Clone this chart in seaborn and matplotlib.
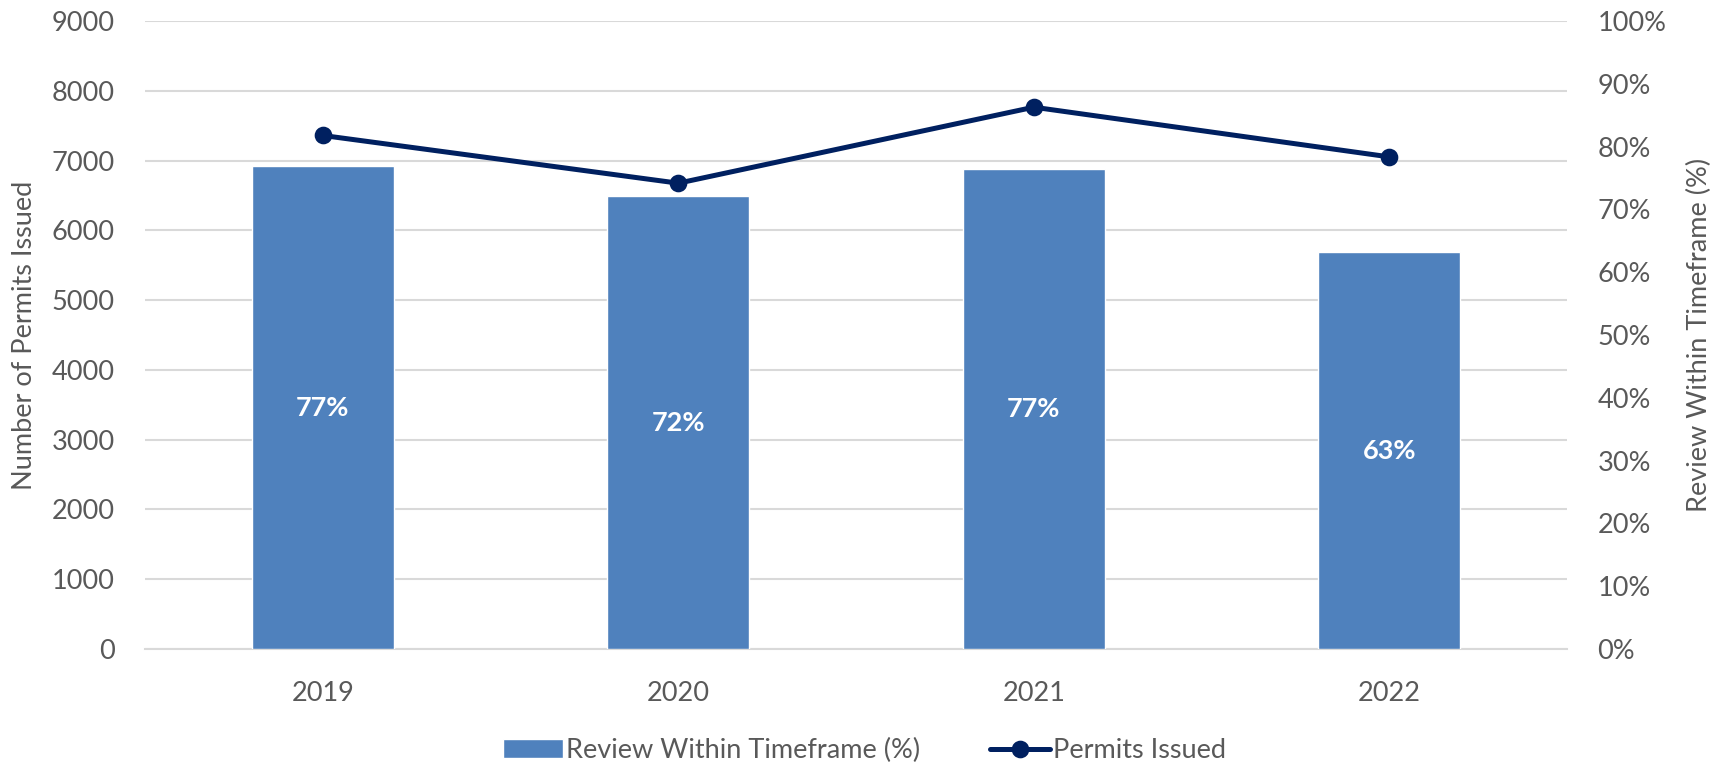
import matplotlib
matplotlib.use('Agg')
import matplotlib.pyplot as plt
import seaborn as sns
import numpy as np

# data
years = ['2019', '2020', '2021', '2022']
review_pct = [76.9, 72.1, 76.5, 63.2]      # bars, right axis
review_labels = ['77%', '72%', '77%', '63%']
permits = [7360, 6676, 7765, 7053]          # line, left axis

bar_color = '#4F81BD'
line_color = '#002060'
text_color = '#595959'
grid_color = '#D9D9D9'

sns.set_theme(style='white')
plt.rcParams['font.family'] = ['Lato', 'DejaVu Sans']

fig = plt.figure(figsize=(17.29, 7.7), dpi=100)
ax = fig.add_axes([0.0839, 0.1571, 0.8224, 0.8156])
ax_bar = ax.twinx()
ax_line = ax.twinx()

# left axis: permits scale + grid
ax.set_ylim(0, 9000)
ax.set_yticks(np.arange(0, 9001, 1000))
ax.grid(axis='y', color=grid_color, linewidth=1.5)
ax.set_ylabel('Number of Permits Issued', fontsize=19.5, color=text_color)
ax.yaxis.set_label_coords(-0.076, 0.5)

# bars on the percent axis
sns.barplot(x=years, y=review_pct, ax=ax_bar, color=bar_color, width=0.4,
            saturation=1)
ax_bar.bar_label(ax_bar.containers[0], labels=review_labels, label_type='center',
                 color='white', fontweight='bold', fontsize=19.5)
ax_bar.set_ylim(0, 100)
ax_bar.set_yticks(np.arange(0, 101, 10))
ax_bar.set_yticklabels([f'{v}%' for v in range(0, 101, 10)])
ax_bar.set_ylabel('Review Within Timeframe (%)', fontsize=19.5, color=text_color)
ax_bar.yaxis.set_label_position('right')
ax_bar.yaxis.set_label_coords(1.084, 0.5)

# line on the permits scale
sns.pointplot(x=years, y=permits, ax=ax_line, color=line_color,
              linewidth=3.6, markersize=10)
ax_line.set_ylim(0, 9000)
ax_line.set_yticks([])

for a in (ax, ax_bar, ax_line):
    a.set_xlim(-0.5, 3.5)
    for s in a.spines.values():
        s.set_visible(False)
    a.tick_params(length=0, labelsize=19.5, colors=text_color)
ax.spines['bottom'].set_visible(True)
ax.spines['bottom'].set_color(grid_color)
ax.spines['bottom'].set_linewidth(1.5)
ax.tick_params(axis='y', pad=22)
ax.tick_params(axis='x', pad=23)
ax_bar.tick_params(axis='y', pad=22)
ax_bar.set_xlabel('')
ax_line.set_xlabel('')

handles = [ax_bar.patches[0], ax_line.lines[0]]
fig.legend(handles, ['Review Within Timeframe (%)', 'Permits Issued'],
           loc='center', bbox_to_anchor=(0.5, 0.025), ncol=2, frameon=False,
           fontsize=19.5, labelcolor=text_color, handlelength=2.2,
           handletextpad=0.1, columnspacing=2.6)

fig.savefig('out.png', dpi=100)
